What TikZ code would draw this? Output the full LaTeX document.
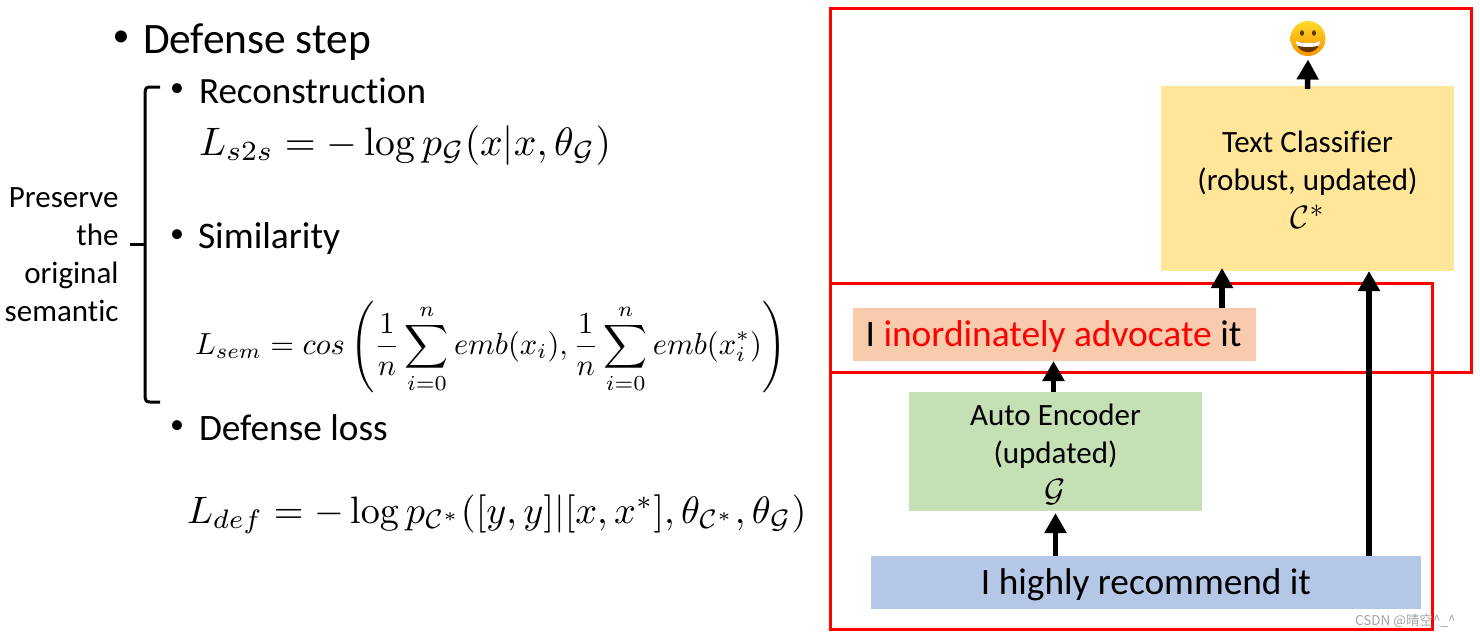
\documentclass[tikz,border=0pt]{standalone}
\usepackage[no-math]{fontspec}
\usepackage{amsmath,amssymb,graphicx}
\setmainfont[Ligatures=NoCommon]{Carlito}
\newfontfamily\wmfont{Noto Sans CJK SC}
\usetikzlibrary{arrows.meta,calc}
\definecolor{fillyel}{HTML}{FFE699}
\definecolor{fillgrn}{HTML}{C5E0B4}
\definecolor{fillorg}{HTML}{F8CBAD}
\definecolor{fillblu}{HTML}{B4C7E7}
\definecolor{emo}{HTML}{FBCB3C}
\tikzset{
  every node/.style={inner sep=0pt,outer sep=0pt},
  redframe/.style={draw=red,line width=3pt},
  flow/.style={line width=5.5pt,draw=black,-{Triangle[length=20pt,width=21pt]}},
  txt/.style={anchor=base west},
}
\newcommand{\pxfont}[1]{\fontsize{#1}{#1}\selectfont}
\newcommand{\rectnode}[6]{%
  \node[rectangle,fill=#6,minimum width=#4pt-#2pt,minimum height=#5pt-#3pt,anchor=north west] (#1) at (#2,#3) {};}
\begin{document}
\begin{tikzpicture}[x=1pt,y=-1pt]
\useasboundingbox (0,0) rectangle (1480,637);
% boxes
\rectnode{yel}{1161}{86}{1454}{271}{fillyel}
\rectnode{grn}{909}{392}{1202}{511}{fillgrn}
\rectnode{org}{853}{308}{1256}{361}{fillorg}
\rectnode{blu}{871}{556}{1421}{609}{fillblu}
% red frames
\node[redframe,rectangle,minimum width=641pt,minimum height=364pt,anchor=north west] (frameA) at (830,8) {};
\node[redframe,rectangle,minimum width=602pt,minimum height=346pt,anchor=north west] (frameB) at (830,283) {};
% box text
\node[align=center,font=\pxfont{31}] (yeltxt) at (1307.5,180) {Text Classifier\\[7pt](robust, updated)\\[7pt]\scalebox{1.3}{$\mathcal{C}^*$}};
\node[align=center,font=\pxfont{31}] (grntxt) at (1055.5,454.5) {Auto Encoder\\[7pt](updated)\\[7pt]\scalebox{1.3}{$\mathcal{G}$}};
\node[font=\pxfont{37.4}] (orgtxt) at ([xshift=-1pt,yshift=-2pt]org.center) {I \textcolor{red}{inordinately advocate} it};
\node[font=\pxfont{37.3}] (blutxt) at ([yshift=-2pt]blu.center) {I highly recommend it};
% emoji
\node[circle,minimum size=35pt,top color=emo!70!yellow,bottom color=orange!85!yellow] (emoji) at (1308,38.5) {};
\fill[black!60!orange] (1302,33) ellipse (2pt and 2.8pt);
\fill[black!60!orange] (1314,33) ellipse (2pt and 2.8pt);
\fill[black!60!orange] (1296,41) .. controls (1301,44) and (1315,44) .. (1320,41) .. controls (1319,56) and (1297,56) .. (1296,41) -- cycle;
\fill[white] (1296,41) .. controls (1301,44) and (1315,44) .. (1320,41) .. controls (1320,43) and (1319.5,44.5) .. (1319,45.5) .. controls (1313,47.5) and (1303,47.5) .. (1297,45.5) .. controls (1296.5,44.5) and (1296,43) .. (1296,41) -- cycle;
% arrows
\draw[flow] (blu.north -| grn.south) -- ([yshift=-2pt]grn.south);
\draw[flow] ([xshift=-2pt]grn.north) -- ([xshift=-2pt]grn.north |- org.south);
\coordinate (orgout) at ([xshift=167.5pt]org.north);
\draw[flow] (orgout) -- ([yshift=3pt]orgout |- yel.south);
\coordinate (bluout) at ([xshift=223pt]blu.north);
\draw[flow] (bluout) -- (bluout |- yel.south);
\draw[flow] ([yshift=-3pt]yel.north) -- ([yshift=-3.5pt]emoji.south);
% left text
\node[font=\pxfont{34}] (b0) at (121,39) {•};
\node[txt,font=\pxfont{43.4}] (t0) at (143,53) {Defense step};
\node[font=\pxfont{28}] (b1) at (177,90) {•};
\node[txt,font=\pxfont{37.1}] (t1) at (199,103) {Reconstruction};
\node[font=\pxfont{28}] (b2) at (177,236) {•};
\node[txt,font=\pxfont{37.5}] (t2) at (198,248) {Similarity};
\node[font=\pxfont{28}] (b3) at (177,427) {•};
\node[txt,font=\pxfont{37.3}] (t3) at (199,440) {Defense loss};
\node[anchor=base west] (e1) at (199,155) {\scalebox{3.97}{$L_{s2s}=-\log p_{\mathcal{G}}(x|x,\theta_{\mathcal{G}})$}};
\node[anchor=west] (e2) at (195,347) {\scalebox{3.05}{$L_{sem}=cos\left(\dfrac{1}{n}\displaystyle\sum_{i=0}^{n}emb(x_i),\dfrac{1}{n}\displaystyle\sum_{i=0}^{n}emb(x_i^*)\right)$}};
\node[anchor=base west] (e3) at (187,523) {\scalebox{3.82}{$L_{def}=-\log p_{\mathcal{C}^*}([y,y]|[x,x^*],\theta_{\mathcal{C}^*},\theta_{\mathcal{G}})$}};
% brace
\node[align=right,anchor=east,font=\pxfont{31}] (pres) at (118.5,255) {Preserve\\[7pt]the\\[7pt]original\\[7pt]semantic};
\coordinate (btop) at (160,87);
\coordinate (bbot) at (160,402);
\draw[line width=3pt,line join=round] (btop) -- (150,87) .. controls (146,87) and (145,89) .. (145,92) -- (145,397) .. controls (145,400) and (146,402) .. (150,402) -- (bbot);
\draw[line width=3pt] (130,244) -- (145,244);
% watermark
\node[anchor=base west,font=\wmfont\pxfont{13.5},text=black!45,opacity=.8] (wm) at (1355,625) {CSDN @晴空\^{}\_\^{}};
\end{tikzpicture}
\end{document}
